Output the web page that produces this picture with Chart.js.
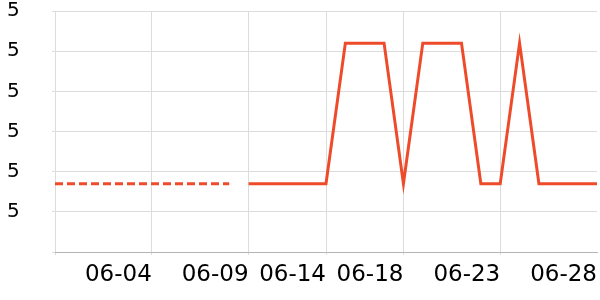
<!DOCTYPE html>
<html>
<head>
<meta charset="utf-8">
<script src="https://cdn.jsdelivr.net/npm/chart.js@4/dist/chart.umd.min.js"></script>
<style>
  body { margin: 0; background: #fff; }
  #wrap { width: 600px; height: 300px; }
</style>
</head>
<body>
<div id="wrap"><canvas id="myChart"></canvas></div>
<script>
// one category per day
const days = ['05-31', '06-01', '06-02', '06-03', '06-04', '06-05', '06-06', '06-07',
    '06-08', '06-09', '06-10', '06-11', '06-12', '06-13', '06-14', '06-15', '06-16',
    '06-17', '06-18', '06-19', '06-20', '06-21', '06-22', '06-23', '06-24', '06-25',
    '06-26', '06-27', '06-28'];

// dashed part (first days) and solid part
const dashedValues = [4.67, 4.67, 4.67, 4.67, 4.67, 4.67, 4.67, 4.67, 4.67, 4.67];
const solidValues = [4.67, 4.67, 4.67, 4.67, 4.67, 5.02, 5.02, 5.02, 4.67, 5.02,
    5.02, 5.02, 4.67, 4.67, 5.02, 4.67, 4.67, 4.67, 4.67];

// ticks shown on the x axis
const tickIndex = [0, 5, 10, 14, 18, 23, 28];
const tickLabels = ['', '06-04', '06-09', '06-14', '06-18', '06-23', '06-28'];

const lineColor = '#ee4b2b';
const gridColor = '#dcdcdc';

let dashedData = days.map((d, i) => i < dashedValues.length ? dashedValues[i] : null);
let solidData = days.map((d, i) => {
    let j = i - (days.length - solidValues.length);
    return j >= 0 ? solidValues[j] : null;
});

let ctx = document.getElementById('myChart').getContext('2d');
let chart = new Chart(ctx, {
    type: 'line',
    data: {
        labels: days,
        datasets: [{
            data: dashedData,
            borderColor: lineColor,
            borderWidth: 3,
            borderDash: [8, 4],
            pointRadius: 0,
            tension: 0,
            spanGaps: false
        }, {
            data: solidData,
            borderColor: lineColor,
            borderWidth: 3,
            pointRadius: 0,
            tension: 0,
            spanGaps: false
        }]
    },
    options: {
        responsive: true,
        maintainAspectRatio: false,
        animation: false,
        layout: {
            padding: { left: 7, right: 3, top: 0, bottom: 0 }
        },
        plugins: {
            legend: { display: false },
            tooltip: { enabled: false }
        },
        scales: {
            x: {
                grid: {
                    color: (c) => (c.tick && c.tick.value === 28) ? 'rgba(0,0,0,0)' : gridColor,
                    tickLength: 3
                },
                border: { color: '#b4b4b4' },
                afterBuildTicks: (scale) => {
                    scale.ticks = tickIndex.map(v => ({ value: v }));
                },
                afterFit: (scale) => {
                    scale.height = 48;
                    scale.paddingRight = 0;
                },
                ticks: {
                    autoSkip: false,
                    maxRotation: 0,
                    align: 'end',
                    padding: 6,
                    color: '#000',
                    font: { family: 'DejaVu Sans', size: 23 },
                    callback: (v) => tickLabels[tickIndex.indexOf(v)]
                }
            },
            y: {
                min: 4.5,
                max: 5.1,
                grid: { color: gridColor, tickLength: 3 },
                border: { display: false },
                afterFit: (scale) => { scale.width = 48; },
                ticks: {
                    stepSize: 0.1,
                    crossAlign: 'far',
                    color: '#000',
                    font: { family: 'DejaVu Sans', size: 20, lineHeight: 0.8 },
                    callback: (v, i) => i === 0 ? '' : v.toFixed(0)
                }
            }
        }
    }
});
</script>
</body>
</html>
